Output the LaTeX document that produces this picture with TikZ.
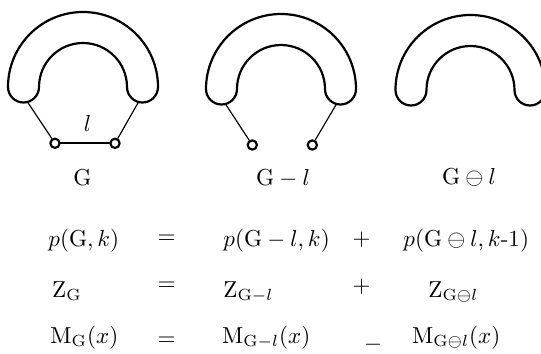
\documentclass[tikz,border=0pt]{standalone}
\definecolor{delInk}{HTML}{000000}
\newcommand{\delLineW}{0.95pt}
\newcommand{\delLineWthin}{0.5pt}
\tikzset{
  shoe line/.style={delInk, line width=\delLineW},
  arm line/.style={delInk, line width=\delLineWthin},
  edge line/.style={delInk, line width=\delLineW},
  vertex/.style={circle, draw=delInk, line width=0.95pt, fill=white,
    inner sep=0pt, minimum size=4pt},
  eq/.style={anchor=base west, inner sep=0pt},
  op/.style={inner sep=0pt},
  % half ring with rounded feet; (-left) and (-right) sit on the feet
  horseshoe/.pic={
    \draw[shoe line] (-75,0) arc[start angle=180, end angle=0, radius=75]
      arc[start angle=0, end angle=-180, radius=15.5]
      arc[start angle=0, end angle=180, radius=44]
      arc[start angle=0, end angle=-180, radius=15.5] -- cycle;
    \coordinate (-left) at (-55.5,-15);
    \coordinate (-right) at (55.5,-15);
  },
}

\begin{document}
\begin{tikzpicture}[x=0.433pt, y=0.433pt, line cap=round, line join=round]
  % picture frame in pixel units: x in [0,541], y in [0,353]
  \useasboundingbox (0,0) rectangle (541,353);

  % --- Left: G with its edge l ---
  \pic (hsG) at (83,266) {horseshoe};
  \node[vertex] (gA) at (55,209.7) {};
  \node[vertex] (gB) at (115,209.7) {};
  \draw[arm line] (hsG-left) -- (gA);
  \draw[arm line] (hsG-right) -- (gB);
  \draw[edge line] (gA) -- (gB);
  \node[eq, anchor=base] (labl) at (87.5,222) {$l$};
  \node[eq, anchor=base] (labG) at (82.5,168) {$\mathrm{G}$};

  % --- Middle: edge deleted ---
  \pic (hsD) at (281,264) {horseshoe};
  \node[vertex] (dA) at (252.3,208) {};
  \node[vertex] (dB) at (312.3,208) {};
  \draw[arm line] (hsD-left) -- (dA);
  \draw[arm line] (hsD-right) -- (dB);
  \node[eq, anchor=base] (labD) at (283,168) {$\mathrm{G}-l$};

  % --- Right: edge contracted (runs past the frame) ---
  \pic (hsC) at (470.5,263) {horseshoe};
  \node[eq, anchor=base] (labC) at (469,169) {$\mathrm{G}\ominus l$};

  % --- Recurrences ---
  \node[eq] (pG) at (48,106.5) {$p(\mathrm{G},k)$};
  \node[op] (eqA) at (166.5,113.7) {$=$};
  \node[eq] (pD) at (223,106.5) {$p(\mathrm{G}-l,k)$};
  \node[op] (plA) at (361.7,113) {$+$};
  \node[eq] (pC) at (403,106.5) {$p(\mathrm{G}\ominus l,k\mbox{-}1)$};

  \node[eq] (zG) at (51.7,56) {$\mathrm{Z}_{\mathrm{G}}$};
  \node[op] (eqB) at (166.5,66.3) {$=$};
  \node[eq] (zD) at (223,56) {$\mathrm{Z}_{\mathrm{G}-l}$};
  \node[op] (plB) at (361.7,66.3) {$+$};
  \node[eq] (zC) at (428,56) {$\mathrm{Z}_{\mathrm{G}\ominus l}$};

  \node[eq] (mG) at (50,10) {$\mathrm{M}_{\mathrm{G}}(x)$};
  \node[op] (eqC) at (166.5,12) {$=$};
  \node[eq] (mD) at (221.7,10) {$\mathrm{M}_{\mathrm{G}-l}(x)$};
  \node[op] (miC) at (373,8) {$-$};
  \node[eq] (mC) at (411.7,10) {$\mathrm{M}_{\mathrm{G}\ominus l}(x)$};
\end{tikzpicture}
\end{document}
